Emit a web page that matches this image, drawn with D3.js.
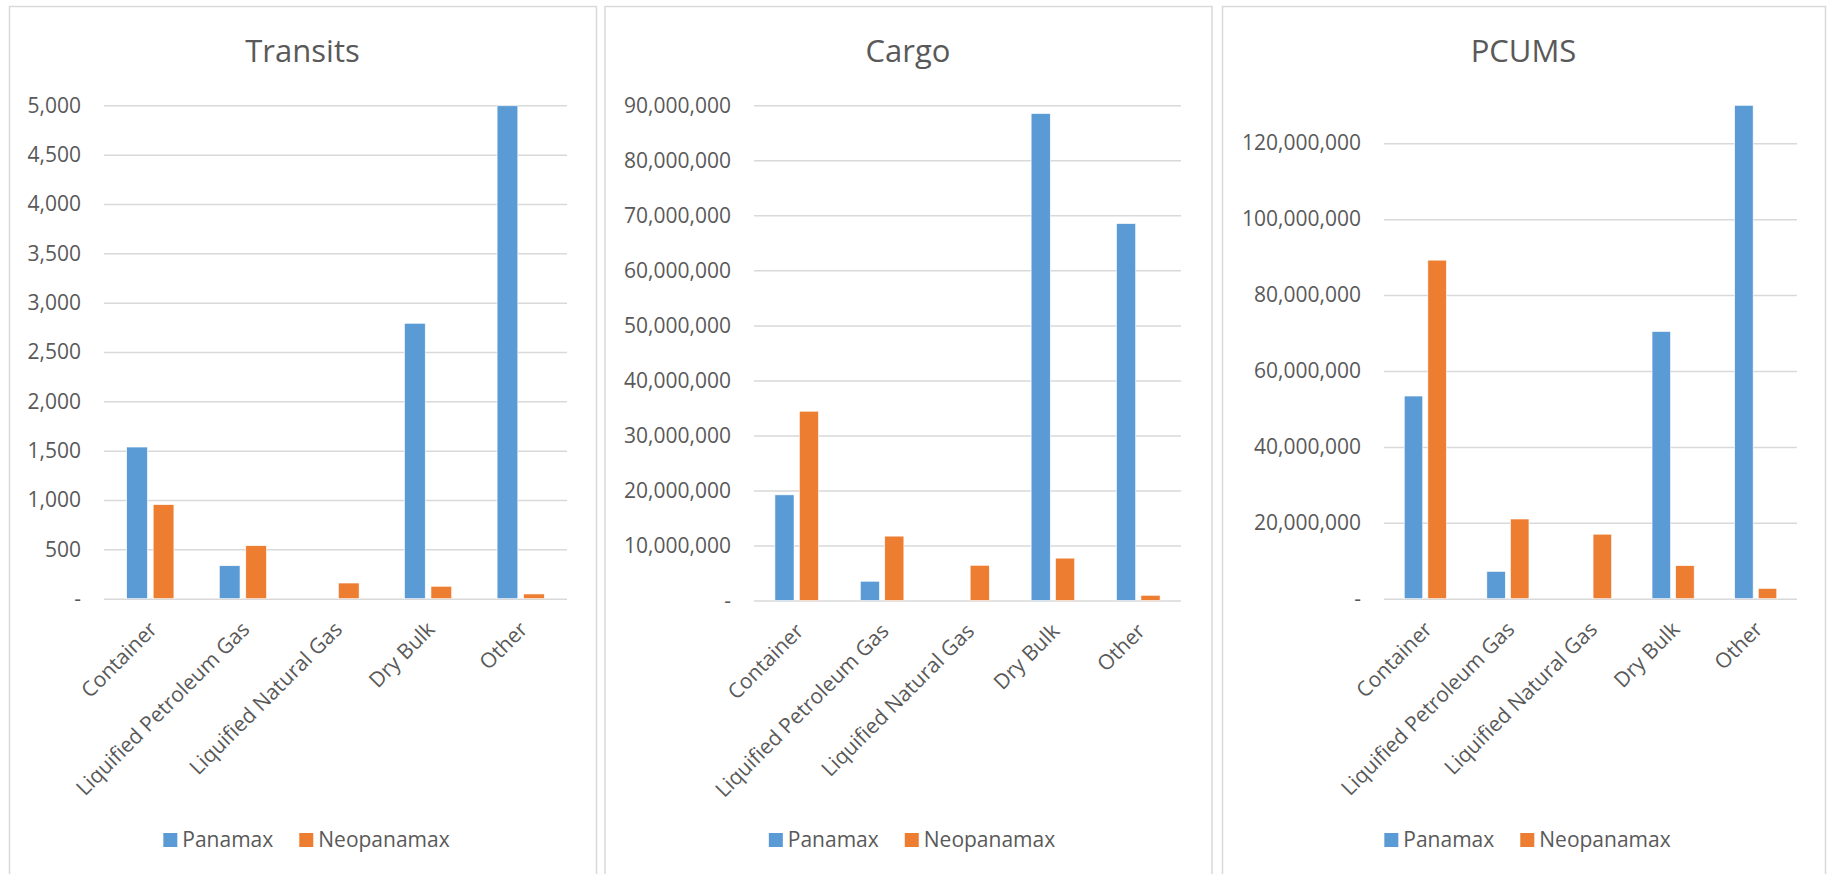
<!DOCTYPE html>
<html>
<head>
<meta charset="utf-8">
<script src="https://cdn.jsdelivr.net/npm/d3@7"></script>
<style>
    body { margin: 0; background: #fff; }
    svg text { font-family: "Open Sans", sans-serif; fill: #595959; }
</style>
</head>
<body>
<div id="chart"></div>
<script>
    "use strict"

    // -------------------------------------
    // Data
    // -------------------------------------

    var categories = ["Container", "Liquified Petroleum Gas", "Liquified Natural Gas", "Dry Bulk", "Other"]
    var seriesNames = ["Panamax", "Neopanamax"]

    var transitsPanamax = [1537, 334, 0, 2791, 4995]
    var transitsNeopanamax = [953, 537, 159, 126, 48]
    var transitsTicks = [0, 500, 1000, 1500, 2000, 2500, 3000, 3500, 4000, 4500, 5000]

    var cargoPanamax = [19200000, 3500000, 0, 88500000, 68500000]
    var cargoNeopanamax = [34400000, 11700000, 6400000, 7700000, 950000]
    var cargoTicks = [0, 10000000, 20000000, 30000000, 40000000, 50000000, 60000000, 70000000, 80000000, 90000000]

    var pcumsPanamax = [53400000, 7200000, 0, 70400000, 130000000]
    var pcumsNeopanamax = [89200000, 21000000, 17000000, 8700000, 2700000]
    var pcumsTicks = [0, 20000000, 40000000, 60000000, 80000000, 100000000, 120000000]

    var colors = ["#5B9BD5", "#ED7D31"]

    var W = 1827, H = 874

    var svg = d3.select("#chart").append("svg")
        .attr("width", W)
        .attr("height", H)

    var fmt = d3.format(",")

    // -------------------------------------
    // One chart panel
    // -------------------------------------

    function drawPanel(p) {
        var g = svg.append("g")

        // frame
        g.append("rect")
            .attr("x", p.left + 0.5)
            .attr("y", 6.5)
            .attr("width", p.right - p.left)
            .attr("height", H)
            .attr("fill", "#fff")
            .attr("stroke", "#d9d9d9")
            .attr("stroke-width", 1.5)

        var mid = (p.left + p.right) / 2

        g.append("text")
            .attr("x", mid)
            .attr("y", 62)
            .attr("text-anchor", "middle")
            .style("font-size", "31px")
            .text(p.title)

        var x = d3.scaleBand().domain(categories).range([p.x0, p.x1])
        var y = d3.scaleLinear().domain([0, p.max]).range([p.y0, p.y1])

        // gridlines
        g.append("g")
            .attr("transform", `translate(${p.x0},0)`)
            .call(d3.axisLeft(y).tickValues(p.ticks).tickSize(-(p.x1 - p.x0)).tickFormat(""))
            .call(a => a.select(".domain").remove())
            .selectAll("line")
            .attr("stroke", "#d9d9d9")
            .attr("stroke-width", 1.5)

        // y labels
        g.append("g")
            .attr("transform", `translate(${p.x0},0)`)
            .call(d3.axisLeft(y).tickValues(p.ticks).tickSize(0).tickPadding(23)
                .tickFormat(d => d === 0 ? "-" : fmt(d)))
            .call(a => a.select(".domain").remove())
            .selectAll("text")
            .attr("fill", "#595959")
            .style("font-family", "Open Sans, sans-serif")
            .style("font-size", "21px")

        // bars
        var bw = x.bandwidth() * 0.224
        var gap = x.bandwidth() * 0.062
        var series = [p.a, p.b]
        series.forEach(function (vals, s) {
            g.selectAll(".bar" + s)
                .data(vals.map((v, i) => ({ cat: categories[i], v: v })).filter(d => d.v > 0))
                .enter()
                .append("rect")
                .attr("x", d => x(d.cat) + x.bandwidth() / 2 + (s === 0 ? -gap / 2 - bw : gap / 2))
                .attr("y", d => y(d.v))
                .attr("width", bw)
                .attr("height", d => y(0) - y(d.v))
                .attr("fill", colors[s])
                .attr("stroke", "#fff")
                .attr("stroke-width", 0.6)
        })

        // category labels
        g.append("g")
            .attr("transform", `translate(0,${p.y0})`)
            .call(d3.axisBottom(x).tickSize(0).tickFormat(d => d))
            .call(a => a.select(".domain").remove())
            .selectAll("text")
            .attr("fill", "#595959")
            .style("font-family", "Open Sans, sans-serif")
            .style("font-size", "21px")
            .attr("text-anchor", "end")
            .attr("dy", 0)
            .attr("y", 0)
            .attr("transform", "translate(8,32) rotate(-45)")

        // legend
        var leg = g.append("g")
        var cx = 0
        seriesNames.forEach(function (name, s) {
            leg.append("rect")
                .attr("x", cx)
                .attr("y", -7)
                .attr("width", 14)
                .attr("height", 14)
                .attr("fill", colors[s])
            var t = leg.append("text")
                .attr("x", cx + 19)
                .attr("y", 0)
                .attr("dy", "0.35em")
                .style("font-size", "21px")
                .text(name)
            cx += 19 + t.node().getComputedTextLength() + 26
        })
        var lw = cx - 26
        leg.attr("transform", `translate(${mid + 4 - lw / 2},840)`)
    }

    drawPanel({ title: "Transits", left: 9, right: 596, x0: 104, x1: 567, y0: 598.7, y1: 105.3, max: 5000,
        ticks: transitsTicks, a: transitsPanamax, b: transitsNeopanamax })
    drawPanel({ title: "Cargo", left: 604.5, right: 1211.5, x0: 754, x1: 1181, y0: 600.5, y1: 105.3, max: 90000000,
        ticks: cargoTicks, a: cargoPanamax, b: cargoNeopanamax })
    drawPanel({ title: "PCUMS", left: 1222, right: 1825, x0: 1384, x1: 1797, y0: 598.7, y1: 105.3, max: 130000000,
        ticks: pcumsTicks, a: pcumsPanamax, b: pcumsNeopanamax })
</script>
</body>
</html>
